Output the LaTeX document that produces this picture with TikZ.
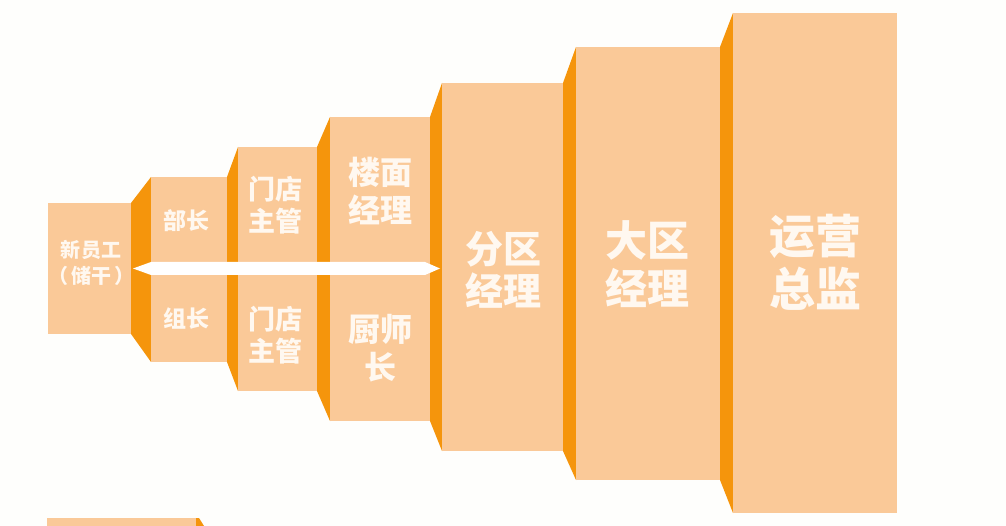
\documentclass[tikz,border=0pt]{standalone}
\usepackage{fontspec}
\newfontfamily\cjk{Noto Sans CJK SC}
\definecolor{frontc}{HTML}{FAC998}
\definecolor{sidec}{HTML}{F5950C}
\definecolor{bgc}{HTML}{FEFEFC}
\definecolor{txtc}{HTML}{FFF8F0}
\tikzset{
  front/.style={fill=frontc, draw=none},
  side/.style={fill=sidec, draw=none},
  band/.style={fill=white, draw=none},
  lbl/.style={text=txtc, align=center, inner sep=0pt},
}
\newcommand{\fs}[2]{\cjk\bfseries\fontsize{#1}{#2}\selectfont}
\begin{document}
\begin{tikzpicture}[x=1pt,y=-1pt]
\fill[bgc] (0,0) rectangle (1006,526);
\useasboundingbox (0,0) rectangle (1006,526);
% block 0
\path[front] (48,203) rectangle (131,334);
% block 1
\path[side] (131,203) -- (151,177) -- (151,362) -- (131,334) -- cycle;
\path[front] (151,177) rectangle (227,362);
% block 2
\path[side] (227,177) -- (238,147) -- (238,391) -- (227,362) -- cycle;
\path[front] (238,147) rectangle (317,391);
% block 3
\path[side] (317,147) -- (330,117) -- (330,421) -- (317,391) -- cycle;
\path[front] (330,117) rectangle (430,421);
% block 4
\path[side] (430,117) -- (442,83) -- (442,451) -- (430,421) -- cycle;
\path[front] (442,83) rectangle (563,451);
% block 5
\path[side] (563,83) -- (576,47) -- (576,480) -- (563,451) -- cycle;
\path[front] (576,47) rectangle (720,480);
% block 6
\path[side] (720,47) -- (733,13) -- (733,513) -- (720,480) -- cycle;
\path[front] (733,13) rectangle (897,513);
% bottom strip
\path[front] (47,518) rectangle (197,526);
\path[side] (196,518) -- (199,518) -- (204,526) -- (196,526) -- cycle;
% white double arrow band
\path[band] (133,268.5) -- (151,262) -- (425,262) -- (440,268.5) -- (425,275) -- (151,275) -- cycle;
% labels
\node[lbl, font={\fs{20}{26}}] (n0) at (91,263) {新员工\\（\hspace{3pt}储干\hspace{3pt}）};
\node[lbl, font={\fs{23}{28}}] (n1a) at (186,221) {部长};
\node[lbl, font={\fs{23}{28}}] (n1b) at (186,319) {组长};
\node[lbl, font={\fs{27}{32}}] (n2a) at (275,205) {门店\\主管};
\node[lbl, font={\fs{27}{32}}] (n2b) at (275,335) {门店\\主管};
\node[lbl, font={\fs{32}{38}}] (n3a) at (380,191) {楼面\\经理};
\node[lbl, font={\fs{32}{38}}] (n3b) at (380,348) {厨师\\长};
\node[lbl, font={\fs{38}{42}}] (n4) at (503,270) {分区\\经理};
\node[lbl, font={\fs{42}{48}}] (n5) at (647,264) {大区\\经理};
\node[lbl, font={\fs{46}{53}}] (n6) at (815,262) {运营\\总监};
\end{tikzpicture}
\end{document}
